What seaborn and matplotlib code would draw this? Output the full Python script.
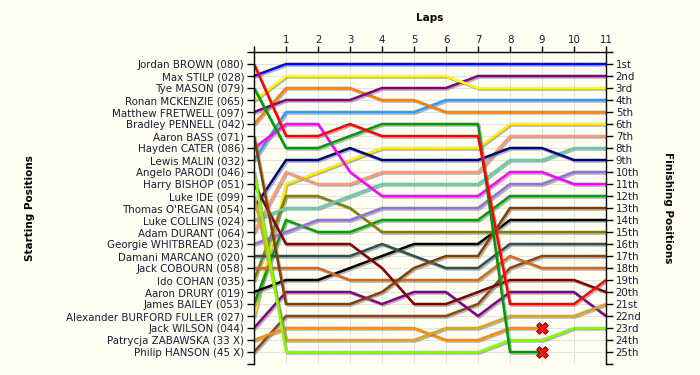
import matplotlib
matplotlib.use("Agg")
import pandas as pd
import matplotlib.pyplot as plt
import matplotlib.patheffects as pe
import seaborn as sns

# starting grid order (row 1 = pole)
drivers = [
    "Jordan BROWN (080)", "Max STILP (028)", "Tye MASON (079)", "Ronan MCKENZIE (065)",
    "Matthew FRETWELL (097)", "Bradley PENNELL (042)", "Aaron BASS (071)", "Hayden CATER (086)",
    "Lewis MALIN (032)", "Angelo PARODI (046)", "Harry BISHOP (051)", "Luke IDE (099)",
    "Thomas O'REGAN (054)", "Luke COLLINS (024)", "Adam DURANT (064)", "Georgie WHITBREAD (023)",
    "Damani MARCANO (020)", "Jack COBOURN (058)", "Ido COHAN (035)", "Aaron DRURY (019)",
    "James BAILEY (053)", "Alexander BURFORD FULLER (027)", "Jack WILSON (044)",
    "Patrycja ZABAWSKA (33 X)", "Philip HANSON (45 X)",
]
colours = [
    "#FF0000", "#0000FF", "#009900", "#FFFF00", "#800080", "#FF8000", "#804000", "#FF00FF",
    "#3399FF", "#80FF00", "#800000", "#DAA520", "#000080", "#66CDAA", "#FF9977", "#9370DB",
    "#2F4F4F", "#D2691E", "#808000", "#000000", "#00A000", "#FFEE00", "#800080",
    "#FF8C00", "#8B4513",
]

# position at laps 0..11 (shorter list = retired)
jordan_brown = [1, 7, 7, 6, 7, 7, 7, 7, 21, 21, 21, 19]
max_stilp = [2, 1, 1, 1, 1, 1, 1, 1, 1, 1, 1, 1]
tye_mason = [3, 8, 8, 7, 6, 6, 6, 6, 25, 25]
ronan_mckenzie = [4, 2, 2, 2, 2, 2, 2, 3, 3, 3, 3, 3]
matthew_fretwell = [5, 4, 4, 4, 3, 3, 3, 2, 2, 2, 2, 2]
bradley_pennell = [6, 3, 3, 3, 4, 4, 5, 5, 5, 5, 5, 5]
aaron_bass = [7, 21, 21, 21, 20, 18, 17, 17, 13, 13, 13, 13]
hayden_cater = [8, 6, 6, 10, 12, 12, 12, 12, 10, 10, 11, 11]
lewis_malin = [9, 5, 5, 5, 5, 5, 4, 4, 4, 4, 4, 4]
angelo_parodi = [10, 25, 25, 25, 25, 25, 25, 25, 24, 24, 23, 23]
harry_bishop = [11, 16, 16, 16, 18, 21, 21, 20, 19, 19, 19, 20]
luke_ide = [12, 24, 24, 24, 24, 24, 23, 23, 22, 22, 22, 21]
thomas_oregan = [13, 9, 9, 8, 9, 9, 9, 9, 8, 8, 9, 9]
luke_collins = [14, 13, 13, 12, 11, 11, 11, 11, 9, 9, 8, 8]
adam_durant = [15, 10, 11, 11, 10, 10, 10, 10, 7, 7, 7, 7]
georgie_whitbread = [16, 15, 14, 14, 13, 13, 13, 13, 11, 11, 10, 10]
damani_marcano = [17, 17, 17, 17, 16, 17, 18, 18, 16, 16, 16, 16]
jack_cobourn = [18, 18, 18, 19, 19, 19, 19, 19, 17, 18, 18, 18]
ido_cohan = [19, 12, 12, 13, 15, 15, 15, 15, 15, 15, 15, 15]
aaron_drury = [20, 19, 19, 18, 17, 16, 16, 16, 14, 14, 14, 14]
james_bailey = [21, 14, 15, 15, 14, 14, 14, 14, 12, 12, 12, 12]
alexander_burford_fuller = [22, 11, 10, 9, 8, 8, 8, 8, 6, 6, 6, 6]
jack_wilson = [23, 20, 20, 20, 21, 20, 20, 22, 20, 20, 20, 22]
patrycja_zabawska = [24, 23, 23, 23, 23, 23, 24, 24, 23, 23]
philip_hanson = [25, 22, 22, 22, 22, 22, 22, 21, 18, 17, 17, 17]

positions = [
    jordan_brown, max_stilp, tye_mason, ronan_mckenzie, matthew_fretwell, bradley_pennell,
    aaron_bass, hayden_cater, lewis_malin, angelo_parodi, harry_bishop, luke_ide,
    thomas_oregan, luke_collins, adam_durant, georgie_whitbread, damani_marcano,
    jack_cobourn, ido_cohan, aaron_drury, james_bailey, alexander_burford_fuller,
    jack_wilson, patrycja_zabawska, philip_hanson,
]

finish_labels = ["1st", "2nd", "3rd", "4th", "5th", "6th", "7th", "8th", "9th", "10th",
                 "11th", "12th", "13th", "14th", "15th", "16th", "17th", "18th", "19th",
                 "20th", "21st", "22nd", "23rd", "24th", "25th"]
n_laps = 11

# long table for seaborn
recs = []
for name, pos in zip(drivers, positions):
    for lap, p in enumerate(pos):
        recs.append((name, lap, p))
df = pd.DataFrame(recs, columns=["driver", "lap", "pos"])

# retirements = last point of the short series
dnf = pd.DataFrame([(len(p) - 1, p[-1]) for p in positions if len(p) <= n_laps],
                   columns=["lap", "pos"])

bg = "#FFFFF3"
txt = "#1A1A3A"
sns.set_style("white")
plt.rcParams["font.family"] = ["DejaVu Sans"]

fig = plt.figure(figsize=(7, 3.75), dpi=100, facecolor=bg)
ax = fig.add_axes([254 / 700, 1 - 364 / 375, (606 - 254) / 700, (364 - 52) / 375])
ax.set_facecolor(bg)

sns.lineplot(data=df, x="lap", y="pos", hue="driver", hue_order=drivers[::-1],
             palette=dict(zip(drivers, colours)), estimator=None, sort=False,
             lw=1.8, legend=False, ax=ax)
for ln in ax.lines:
    ln.set_path_effects([pe.SimpleLineShadow(offset=(1, -1.1), shadow_color="#777777", alpha=0.55),
                         pe.Normal()])
    ln.set_solid_joinstyle("round")

sns.scatterplot(data=dnf, x="lap", y="pos", marker="X", s=70, color="#FF1010",
                edgecolor="#7A0000", linewidth=0.7, zorder=10, ax=ax, legend=False)

ax.set_xlim(0, n_laps)
ax.set_ylim(26, 0)
ax.set_xticks(range(n_laps + 1))
ax.set_xticklabels([""] + [str(i) for i in range(1, n_laps + 1)])
ax.xaxis.tick_top()
ax.set_yticks(range(27))
ax.set_yticklabels([""] + drivers + [""])
ax.grid(True, color="#E3E3E3", lw=0.8)
ax.set_axisbelow(True)
ax.set_xlabel("")
ax.set_ylabel("")
ax.tick_params(axis="both", length=5, width=1, colors="black", labelcolor=txt,
               labelsize=7.4, pad=2)
ax.tick_params(axis="x", length=4, pad=1)
for s in ["top", "left"]:
    ax.spines[s].set_color("black")
    ax.spines[s].set_linewidth(1)
ax.spines["bottom"].set_visible(False)
ax.spines["right"].set_visible(False)

ax2 = ax.twinx()
ax2.set_ylim(26, 0)
ax2.set_yticks(range(27))
ax2.set_yticklabels([""] + finish_labels + [""])
ax2.tick_params(axis="y", length=5, width=1, colors="black", labelcolor=txt,
                labelsize=7.4, pad=2)
for s in ["top", "left", "bottom"]:
    ax2.spines[s].set_visible(False)
ax2.spines["right"].set_color("black")
ax2.spines["right"].set_linewidth(1)

fig.text(430 / 700, 1 - 18 / 375, "Laps", ha="center", va="center",
         fontsize=7.5, fontweight="bold", color="black")
fig.text(30 / 700, 1 - 208 / 375, "Starting Positions", ha="center", va="center",
         rotation=90, fontsize=7.5, fontweight="bold", color="black")
fig.text(668 / 700, 1 - 208 / 375, "Finishing Positions", ha="center", va="center",
         rotation=270, fontsize=7.5, fontweight="bold", color="black")

fig.savefig("out.png", dpi=100, facecolor=bg)
